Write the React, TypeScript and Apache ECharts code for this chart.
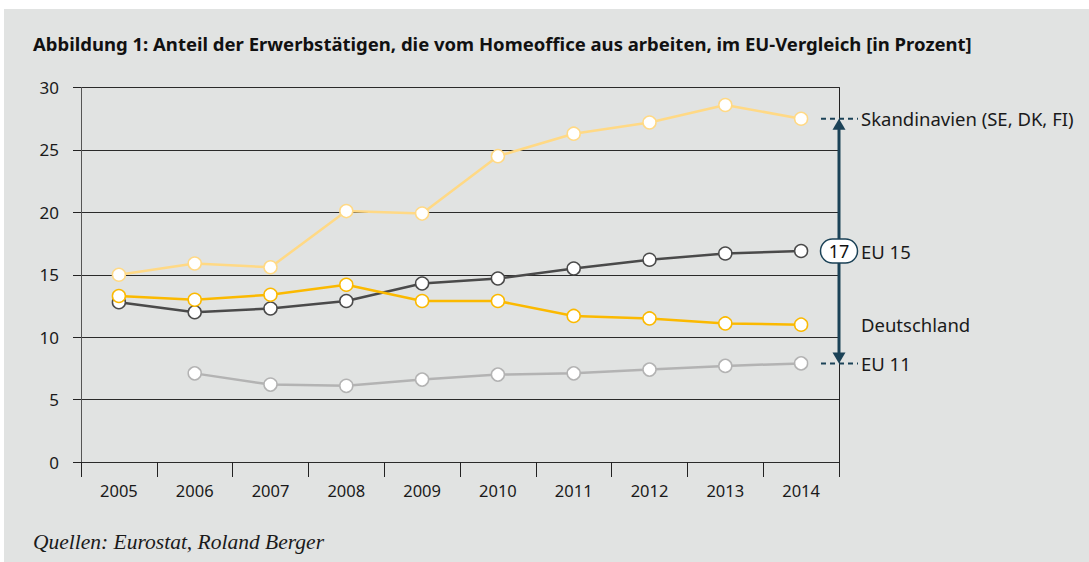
import React, { useEffect, useRef } from "react";
import * as echarts from "echarts";

const years = ["2005", "2006", "2007", "2008", "2009", "2010", "2011", "2012", "2013", "2014"];
const skandinavien = [15.0, 15.9, 15.6, 20.1, 19.9, 24.5, 26.3, 27.2, 28.6, 27.5];
const deutschland = [13.3, 13.0, 13.4, 14.2, 12.9, 12.9, 11.7, 11.5, 11.1, 11.0];
const eu15 = [12.8, 12.0, 12.3, 12.9, 14.3, 14.7, 15.5, 16.2, 16.7, 16.9];
const eu11 = [null, 7.1, 6.2, 6.1, 6.6, 7.0, 7.1, 7.4, 7.7, 7.9];
const yTicks = [0, 5, 10, 15, 20, 25, 30];
const badgeValue = "17";

const FONT = "'Noto Sans', 'Open Sans', sans-serif";

export default function App() {
  const ref = useRef<HTMLDivElement>(null);
  useEffect(() => {
    const chart = echarts.init(ref.current!, null, { renderer: "svg" });
    const gridLeft = 81;
    const gridRight = 250;
    const gridTop = 87.5;
    const gridBottom = 100;
    const mkSeries = (name: string, data: any[], color: string, z: number) => ({
      name,
      type: "line",
      data,
      z,
      symbol: "circle",
      symbolSize: 13,
      showSymbol: true,
      lineStyle: { color, width: 2.5 },
      itemStyle: { color: "#ffffff", borderColor: color, borderWidth: 1.5 },
      connectNulls: false,
    });
    chart.setOption({
      animation: false,
      backgroundColor: "transparent",
      grid: { left: gridLeft, right: gridRight, top: gridTop, bottom: gridBottom, containLabel: false },
      xAxis: {
        type: "category",
        data: years,
        boundaryGap: true,
        axisLine: { show: false },
        axisTick: { show: true, alignWithLabel: false, length: 15, lineStyle: { color: "#222", width: 1 } },
        axisLabel: { color: "#1a1a1a", fontSize: 16.5, fontFamily: FONT, margin: 20 },
        splitLine: { show: false },
      },
      yAxis: [
        {
          type: "value",
          min: 0,
          max: 30,
          interval: 5,
          axisLine: { show: true, lineStyle: { color: "#555", width: 1 } },
          axisTick: { show: true, length: 8, lineStyle: { color: "#222", width: 1 } },
          axisLabel: {
            color: "#1a1a1a",
            fontSize: 17,
            fontFamily: FONT,
            margin: 22,
            formatter: (v: number) => (yTicks.includes(v) ? String(v) : ""),
          },
          splitLine: { show: true, lineStyle: { color: "#2a2a2a", width: 1 } },
        },
        {
          type: "value",
          position: "right",
          min: 0,
          max: 30,
          interval: 5,
          axisLine: { show: true, lineStyle: { color: "#222", width: 1 } },
          axisTick: { show: false },
          axisLabel: { show: false },
          splitLine: { show: false },
        },
      ],
      series: [
        mkSeries("EU 11", eu11, "#b3b3b3", 2),
        mkSeries("EU 15", eu15, "#4a4a4a", 3),
        mkSeries("Deutschland", deutschland, "#fbb900", 4),
        mkSeries("Skandinavien (SE, DK, FI)", skandinavien, "#ffd985", 5),
      ],
    });

    const xr = 1089 - gridRight;
    const yTop = chart.convertToPixel({ yAxisIndex: 0 }, skandinavien[skandinavien.length - 1]) as number;
    const yBot = chart.convertToPixel({ yAxisIndex: 0 }, eu11[eu11.length - 1] as number) as number;
    const yEu15 = chart.convertToPixel({ yAxisIndex: 0 }, eu15[eu15.length - 1]) as number;
    const yDe = chart.convertToPixel({ yAxisIndex: 0 }, deutschland[deutschland.length - 1]) as number;
    const navy = "#1b4257";
    const labelStyle = { fill: "#1a1a1a", fontSize: 18.5, fontFamily: FONT, verticalAlign: "middle", align: "left" };

    chart.setOption({
      graphic: [
        {
          type: "rect",
          z: -100,
          silent: true,
          shape: { x: 4, y: 9, width: 1089, height: 562 },
          style: { fill: "#e1e3e2" },
        },
        {
          type: "text",
          left: 33,
          top: 34,
          style: {
            text: "Abbildung 1: Anteil der Erwerbstätigen, die vom Homeoffice aus arbeiten, im EU-Vergleich [in Prozent]",
            fill: "#111",
            fontSize: 18.5,
            fontWeight: "bold",
            fontFamily: FONT,
          },
        },
        {
          type: "text",
          left: 33,
          top: 531,
          style: {
            text: "Quellen: Eurostat, Roland Berger",
            fill: "#1a1a1a",
            fontSize: 21.5,
            fontStyle: "italic",
            fontFamily: "'Liberation Serif', 'DejaVu Serif', serif",
          },
        },
        {
          type: "line",
          z: 50,
          shape: { x1: xr, y1: yTop + 8, x2: xr, y2: yBot - 8 },
          style: { stroke: navy, lineWidth: 3 },
        },
        {
          type: "polygon",
          z: 51,
          shape: { points: [[xr, yTop], [xr - 6.5, yTop + 11], [xr + 6.5, yTop + 11]] },
          style: { fill: navy },
        },
        {
          type: "polygon",
          z: 51,
          shape: { points: [[xr, yBot], [xr - 6.5, yBot - 11], [xr + 6.5, yBot - 11]] },
          style: { fill: navy },
        },
        {
          type: "line",
          z: 49,
          shape: { x1: xr - 18, y1: yTop, x2: xr + 19, y2: yTop },
          style: { stroke: navy, lineWidth: 2, lineDash: [5, 4] },
        },
        {
          type: "line",
          z: 49,
          shape: { x1: xr - 18, y1: yBot, x2: xr + 19, y2: yBot },
          style: { stroke: navy, lineWidth: 2, lineDash: [5, 4] },
        },
        {
          type: "rect",
          z: 52,
          shape: { x: xr - 18.5, y: yEu15 - 12, width: 37, height: 24, r: 12 },
          style: { fill: "#ffffff", stroke: navy, lineWidth: 1.5 },
        },
        {
          type: "text",
          z: 53,
          x: xr,
          y: yEu15,
          style: { text: badgeValue, fill: "#111", fontSize: 18, fontFamily: FONT, align: "center", verticalAlign: "middle" },
        },
        { type: "text", z: 53, x: xr + 22, y: yTop, style: { ...labelStyle, text: "Skandinavien (SE, DK, FI)" } },
        { type: "text", z: 53, x: xr + 22, y: yEu15, style: { ...labelStyle, text: "EU 15" } },
        { type: "text", z: 53, x: xr + 22, y: yDe, style: { ...labelStyle, text: "Deutschland" } },
        { type: "text", z: 53, x: xr + 22, y: yBot, style: { ...labelStyle, text: "EU 11" } },
      ],
    });

    return () => chart.dispose();
  }, []);
  return (
    <div
      ref={ref}
      style={{ position: "fixed", left: 0, top: 0, width: 1089, height: 562, background: "#ffffff" }}
    />
  );
}
